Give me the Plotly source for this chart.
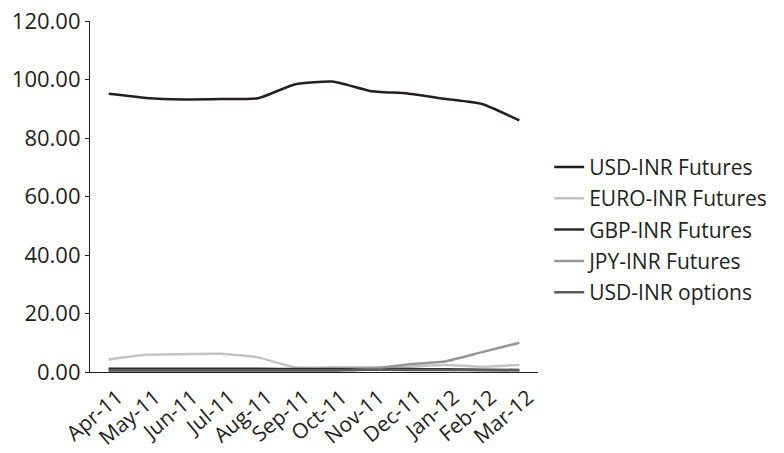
import plotly.graph_objects as go

months = ["Apr-11", "May-11", "Jun-11", "Jul-11", "Aug-11", "Sep-11",
          "Oct-11", "Nov-11", "Dec-11", "Jan-12", "Feb-12", "Mar-12"]

usd_inr_futures = [95.1, 93.7, 93.2, 93.3, 93.6, 98.4, 99.3, 96.1, 95.2, 93.4, 91.6, 86.0]
euro_inr_futures = [4.3, 5.9, 6.1, 6.2, 5.0, 1.6, 1.6, 1.6, 1.8, 2.4, 1.8, 2.4]
gbp_inr_futures = [1.1, 1.1, 1.1, 1.1, 1.1, 1.0, 1.0, 1.0, 1.0, 0.9, 0.8, 0.7]
jpy_inr_futures = [0.3, 0.3, 0.3, 0.3, 0.3, 0.3, 0.4, 1.0, 2.6, 3.6, 6.8, 10.0]
usd_inr_options = [0.6, 0.6, 0.6, 0.6, 0.6, 0.6, 0.6, 0.8, 0.7, 0.7, 0.6, 0.6]

series = [
    ("USD-INR Futures", usd_inr_futures, "#231f20"),
    ("EURO-INR Futures", euro_inr_futures, "#c4c4c4"),
    ("GBP-INR Futures", gbp_inr_futures, "#2e2b2c"),
    ("JPY-INR Futures", jpy_inr_futures, "#969696"),
    ("USD-INR options", usd_inr_options, "#5c5c5c"),
]

font_family = "Open Sans, Noto Sans, sans-serif"

fig = go.Figure()
for i, (name, values, color) in enumerate(series):
    fig.add_trace(go.Scatter(
        x=months, y=values, name=name, mode="lines", legendgroup=f"g{i}",
        line=dict(color=color, width=2.5, shape="spline", smoothing=0.5),
    ))

fig.update_layout(
    width=784, height=453,
    margin=dict(l=90, r=246, t=21, b=81),
    paper_bgcolor="white", plot_bgcolor="white",
    font=dict(family=font_family, size=22, color="#231f20"),
    showlegend=True,
    legend=dict(
        x=1.025, y=0.405, xanchor="left", yanchor="middle",
        font=dict(family=font_family, size=21, color="#231f20"),
        itemwidth=30, traceorder="grouped", tracegroupgap=1,
        bgcolor="rgba(0,0,0,0)",
    ),
    xaxis=dict(
        type="category", range=[-0.5, 11.5], automargin=False,
        showline=True, linecolor="#231f20", linewidth=1.2,
        showgrid=False, ticks="", tickangle=-40,
        ticklabelshift=9, ticklabelstandoff=4,
        tickfont=dict(family=font_family, size=21, color="#231f20"),
        zeroline=False,
    ),
    yaxis=dict(
        range=[0, 120], tickvals=[0, 20, 40, 60, 80, 100, 120],
        tickformat=".2f", automargin=False,
        showline=True, linecolor="#231f20", linewidth=1.2,
        ticks="outside", ticklen=4, tickcolor="#231f20",
        showgrid=False, zeroline=False,
        tickfont=dict(family=font_family, size=22, color="#231f20"),
    ),
)

fig.write_html("out.html")
